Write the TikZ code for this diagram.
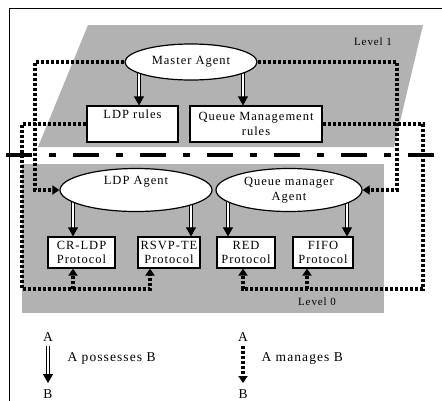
\documentclass[tikz,border=0pt]{standalone}
\usepackage{fontspec}
\setmainfont{Liberation Serif}[LetterSpace=8]
\usetikzlibrary{arrows.meta,shapes.geometric}
\pgfdeclarelayer{bg}\pgfdeclarelayer{mid}
\pgfsetlayers{bg,mid,main}
\definecolor{scan}{gray}{0.7}
\begin{document}
\begin{tikzpicture}[x=1pt,y=-1pt,line join=miter,font=\fontsize{12.5}{14.5}\selectfont,
 agent/.style={ellipse,draw,fill=white,line width=1.2pt,inner sep=0pt,align=center},
 box/.style={rectangle,draw,fill=white,line width=1.2pt,inner sep=0pt,align=center},
 possess/.style={double,double distance=1.6pt,line width=0.8pt,-{Triangle[length=9pt,width=10pt]}},
 manage/.style={line width=3.2pt,dash pattern=on 3pt off 2pt,-{Triangle[length=7pt,width=9pt]}},
 level/.style={font=\fontsize{11}{13}\selectfont},
 legend/.style={font=\fontsize{13.5}{16}\selectfont}]
 \useasboundingbox (0,0) rectangle (442,400);
 \begin{pgfonlayer}{bg}
 \fill[scan] (88,25) -- (423,25) -- (394,147) -- (38,147) -- cycle;
 \fill[scan] (22,164) rectangle (384,313);
 \end{pgfonlayer}
 \draw[line width=1pt] (9,401) -- (9,8) -- (443,8);
 \draw[line width=4pt,dash pattern=on 26pt off 17pt on 7pt off 17pt] (6,155) -- (442,155);
 \node[level] (lv1) at (373,42) {Level 1};
 \node[level] (lv0) at (317,302) {Level 0};
 \node[agent,minimum width=132pt,minimum height=36pt] (ma) at (191,62) {Master Agent};
 \node[box,minimum width=91pt,minimum height=36pt] (lr) at (132.5,124) {LDP rules\\\strut};
 \node[box,minimum width=132pt,minimum height=36pt] (qr) at (256,124) {Queue Management\\rules};
 \node[agent,minimum width=152pt,minimum height=43pt] (la) at (136,190) {LDP Agent\\\strut};
 \node[agent,minimum width=146pt,minimum height=43pt] (qa) at (289,190) {Queue manager\\Agent};
 \node[box,minimum width=67pt,minimum height=31pt] (cr) at (81.5,252.5) {CR-LDP\\Protocol};
 \node[box,minimum width=62pt,minimum height=31pt] (rs) at (169,252.5) {RSVP-TE\\Protocol};
 \node[box,minimum width=58pt,minimum height=31pt] (rd) at (246,252.5) {RED\\Protocol};
 \node[box,minimum width=60pt,minimum height=31pt] (ff) at (323,252.5) {FIFO\\Protocol};
 \begin{pgfonlayer}{mid}
 \draw[possess] ([xshift=6.5pt]lr.north |- ma) -- ([xshift=6.5pt]lr.north);
 \draw[possess] ([xshift=-13pt]qr.north |- ma) -- ([xshift=-13pt]qr.north);
 \draw[possess] ([xshift=-8.5pt]cr.north |- la) -- ([xshift=-8.5pt]cr.north);
 \draw[possess] ([xshift=22pt]rs.north |- la) -- ([xshift=22pt]rs.north);
 \draw[possess] ([xshift=-18pt]rd.north |- qa) -- ([xshift=-18pt]rd.north);
 \draw[possess] ([xshift=24pt]ff.north |- qa) -- ([xshift=24pt]ff.north);
 \end{pgfonlayer}
 \coordinate (t1) at (73,289); \coordinate (t2) at (150,289);
 \coordinate (t3) at (243,289); \coordinate (t4) at (307,289);
 \draw[manage] (ma.west) -| (35,190) -- (la.west);
 \draw[manage] (ma.east) -| (397,190) -- (qa.east);
 \draw[manage] (lr.west) -| (22,289) -- (t2) -- (t2 |- rs.south);
 \draw[manage] (t1) -- (t1 |- cr.south);
 \draw[manage] (qr.east) -| (423,289) -- (t3) -- (t3 |- rd.south);
 \draw[manage] (t4) -- (t4 |- ff.south);
 \node[legend] (a1) at (48,337) {A};
 \node[legend] (b1) at (48,394) {B};
 \draw[possess,shorten <=1pt,shorten >=3pt] (a1) -- (b1);
 \node[legend,right] (t5) at (64,358) {A possesses B};
 \node[legend] (a2) at (243,337) {A};
 \node[legend] (b2) at (243,394) {B};
 \draw[manage,shorten <=1pt,shorten >=3pt] (a2) -- (b2);
 \node[legend,right] (t6) at (258,358) {A manages B};
\end{tikzpicture}
\end{document}
